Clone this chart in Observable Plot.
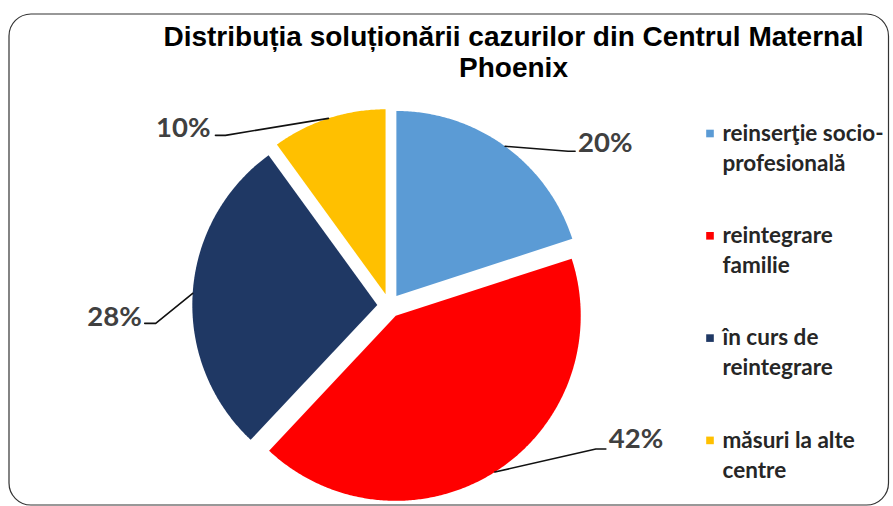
<!DOCTYPE html>
<html>
<head>
<meta charset="utf-8">
<script src="https://cdn.jsdelivr.net/npm/d3@7"></script>
<script src="https://cdn.jsdelivr.net/npm/@observablehq/plot@0.6"></script>
<style>
  html, body { margin: 0; padding: 0; background: #fff; }
  #chart { width: 893px; height: 506px; }
</style>
</head>
<body>
<div id="chart"></div>
<script>
// ---- data ----
const categories = ["reinserţie socio-profesională", "reintegrare familie", "în curs de reintegrare", "măsuri la alte centre"];
const values = [20, 42, 28, 10];
const percentLabels = ["20%", "42%", "28%", "10%"];
const legendLines = [["reinserţie socio-", "profesională"], ["reintegrare", "familie"], ["în curs de", "reintegrare"], ["măsuri la alte", "centre"]];
const colors = ["#5B9BD5", "#FF0000", "#1F3864", "#FFC000"];
const titleLines = ["Distribuția soluționării cazurilor din Centrul Maternal", "Phoenix"];

// ---- layout (pixels) ----
const W = 893, H = 506;
const cx = 388.8, cy = 305.2, R = 185, explode = 12;
// label placement relative to the arc point at each slice's mid angle
const labelLayout = [
  {elbow: [63, 5], end: [70, 5], text: [73, -3], anchor: "start"},
  {elbow: [101, -23], end: [111, -23], text: [114, -33], anchor: "start"},
  {elbow: [-37, 30], end: [-48, 30], text: [-51, 24], anchor: "end"},
  {elbow: [-103, 17], end: [-113, 17], text: [-118, 10], anchor: "end"}
];

const total = d3.sum(values);
const rad = a => a * Math.PI / 180;
let cum = 0;
const slices = values.map((v, i) => {
  const a0 = cum / total * 360;
  cum += v;
  const a1 = cum / total * 360;
  const mid = (a0 + a1) / 2;
  const ox = cx + explode * Math.sin(rad(mid));
  const oy = cy - explode * Math.cos(rad(mid));
  return {cat: categories[i], a0, a1, mid, ox, oy, i};
});

const polyPoints = [];
for (const s of slices) {
  polyPoints.push({cat: s.cat, x: s.ox, y: s.oy});
  const n = Math.max(2, Math.ceil((s.a1 - s.a0) * 2));
  for (let k = 0; k <= n; k++) {
    const a = s.a0 + (s.a1 - s.a0) * k / n;
    polyPoints.push({cat: s.cat, x: s.ox + R * Math.sin(rad(a)), y: s.oy - R * Math.cos(rad(a))});
  }
  polyPoints.push({cat: s.cat, x: s.ox, y: s.oy});
}

const leaderPoints = [];
const labels = [];
for (const s of slices) {
  const L = labelLayout[s.i];
  const px = s.ox + R * Math.sin(rad(s.mid));
  const py = s.oy - R * Math.cos(rad(s.mid));
  leaderPoints.push({cat: s.cat, x: px, y: py});
  leaderPoints.push({cat: s.cat, x: px + L.elbow[0], y: py + L.elbow[1]});
  leaderPoints.push({cat: s.cat, x: px + L.end[0], y: py + L.end[1]});
  labels.push({text: percentLabels[s.i], x: px + L.text[0], y: py + L.text[1], anchor: L.anchor});
}

const legendY0 = 133, legendStep = 102.3, legendLine = 30;
const legendSquares = categories.map((c, i) => ({cat: c, x: 709.5, y: legendY0 + i * legendStep}));
const legendText = [];
legendLines.forEach((lines, i) => lines.forEach((t, j) => legendText.push({text: t, x: 722, y: legendY0 + i * legendStep + j * legendLine})));

const titleData = titleLines.map((t, j) => ({text: t, x: 513, y: 37 + j * 31}));

const labelFont = "Lato, 'Open Sans', sans-serif";

const chart = Plot.plot({
  width: W,
  height: H,
  margin: 0,
  x: {domain: [0, W], axis: null},
  y: {domain: [0, H], reverse: true, axis: null},
  color: {domain: categories, range: colors},
  marks: [
    Plot.frame({rx: 22, stroke: "#333", strokeWidth: 1.2, insetLeft: 8.5, insetTop: 13.5, insetRight: 5, insetBottom: 1.5}),
    Plot.line(polyPoints, {x: "x", y: "y", z: "cat", fill: "cat", stroke: "none", curve: "linear"}),
    Plot.line(leaderPoints, {x: "x", y: "y", z: "cat", stroke: "#111", strokeWidth: 1.6, curve: "linear"}),
    Plot.text(labels.filter(d => d.anchor === "start"), {x: "x", y: "y", text: "text", textAnchor: "start", lineAnchor: "middle", fontSize: 27.5, fontWeight: "bold", fill: "#404040", fontFamily: labelFont}),
    Plot.text(labels.filter(d => d.anchor === "end"), {x: "x", y: "y", text: "text", textAnchor: "end", lineAnchor: "middle", fontSize: 27.5, fontWeight: "bold", fill: "#404040", fontFamily: labelFont}),
    Plot.dot(legendSquares, {x: "x", y: "y", fill: "cat", symbol: "square", r: 4.3, stroke: "none"}),
    Plot.text(legendText, {x: "x", y: "y", text: "text", textAnchor: "start", lineAnchor: "middle", fontSize: 22.5, fontWeight: "bold", fill: "#262626", fontFamily: labelFont}),
    Plot.text(titleData, {x: "x", y: "y", text: "text", textAnchor: "middle", lineAnchor: "middle", fontSize: 28, fontWeight: "bold", fill: "#000", fontFamily: "'Liberation Sans', Arial, sans-serif"})
  ]
});
document.getElementById("chart").appendChild(chart);
</script>
</body>
</html>
